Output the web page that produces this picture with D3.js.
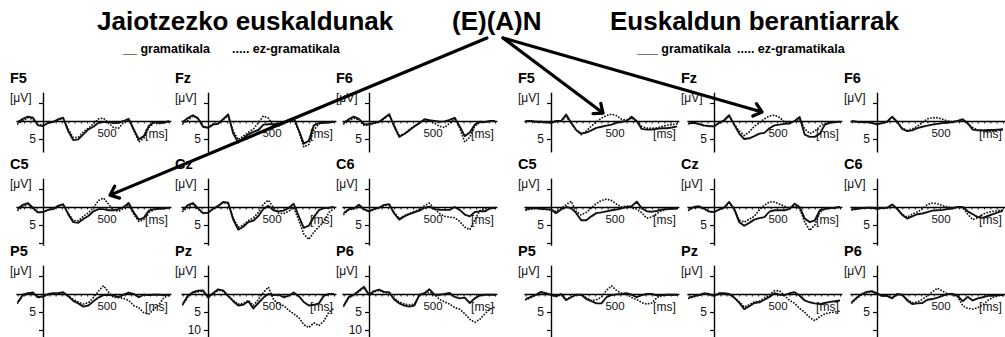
<!DOCTYPE html>
<html>
<head>
<meta charset="utf-8">
<script src="https://cdn.jsdelivr.net/npm/d3@7"></script>
<style>
  body { margin: 0; background: #fff; }
  svg { display: block; font-family: "Liberation Sans", Arial, sans-serif; }
</style>
</head>
<body>
<div id="chart"></div>
<script>
// sample times (ms) of every waveform
const times = [-200,-160,-120,-80,-40,0,40,80,120,160,200,240,280,320,360,400,440,480,520,560,600,640,680,720,760,800,840,880,920,960,1000];

const electrodes = [["F5", "Fz", "F6"], ["C5", "Cz", "C6"], ["P5", "Pz", "P6"]];
const groupTitles = ["Jaiotzezko euskaldunak", "Euskaldun berantiarrak"];
const centerTitle = "(E)(A)N";
const legendLabels = [["__ gramatikala", "..... ez-gramatikala"], ["___ gramatikala", "..... ez-gramatikala"]];
const yTicks = [-5, 5, 10];
const xTickLabel = 500;

// native speakers (left block), µV, positive plotted downwards: G = gramatikala, U = ez-gramatikala
const natF5G = [0.3,-0.6,-1.2,-0.9,1.2,1.4,0.5,0.3,-0.5,-0.9,2.8,5.3,5.1,3.7,2.3,1.6,0.5,0.3,0.3,0.6,0.5,0,-0.6,2.3,5.1,4.2,1.4,0.3,0.5,0.5,0];
const natF5U = [0.8,0,-0.9,-0.5,1.0,1.2,0.6,0.2,-0.3,-0.7,2.2,4.6,4.5,3.0,2.0,0.8,-0.6,-0.8,0.6,1.8,2.0,0.4,-0.5,2.6,5.8,4.8,1.8,0.6,0.8,0.3,0.2];
const natFzG = [0.3,-0.8,-1.6,-0.8,1.6,1.9,1.0,0.8,-0.5,-1.8,3.5,6.0,4.8,3.7,3.0,2.5,1.0,0.9,0.9,0.7,0.5,-0.3,-0.9,2.5,6.3,5.5,1.2,0.6,0.5,0.4,0.2];
const natFzU = [0.8,-0.2,-1.4,-0.6,1.4,1.8,0.8,0.6,-0.4,-1.5,2.8,5.2,4.2,3.2,2.2,0.5,-1.4,-0.8,1.4,1.4,0.8,0,-0.4,2.8,7.2,6.5,2.5,0.8,0.6,0.3,0.1];
const natF6G = [0.5,-0.5,-1.2,-0.6,0.9,0.9,0.5,0.2,-0.8,-1.9,1.5,4.4,3.6,2.6,1.5,0.6,-0.5,-0.2,0,0.2,0.1,-0.3,-0.9,1.5,4.2,3.2,1.0,0.2,0.3,0,0];
const natF6U = [0.8,0,-0.8,-0.3,1.2,1.2,0.6,0.4,-0.6,-1.7,1.2,4.0,3.6,2.4,1.4,0.5,-0.3,0,0.6,1.5,1.8,0.6,-0.6,2.0,5.8,4.5,1.4,0.4,0.2,0.1,0];
const natC5G = [0.5,-0.6,-1.1,0.2,1.5,1.4,0.8,0.6,-0.3,-0.8,2.0,4.2,4.4,3.3,2.5,1.2,0.6,0.6,0.9,0.9,0.6,0,-1.1,1.5,3.5,3.0,1.0,0.6,0.5,0.4,0.2];
const natC5U = [0.9,0,-0.8,0.4,1.6,1.4,0.8,0.4,-0.2,-0.6,1.6,3.8,3.8,2.6,1.6,0.2,-1.8,-2.5,-0.8,0.9,1.2,0.4,-0.6,2.0,4.0,3.5,1.5,0.8,0.5,0.4,0.2];
const natCzG = [0.8,-0.5,-1.1,0.3,1.7,1.6,0.5,-0.3,-1.4,-1.2,3.5,6.3,5.5,4.2,3.8,2.5,0.5,-0.3,0.9,1.2,1.0,0.3,-0.9,2.5,5.8,5.2,2.8,0.9,0.3,0.2,0];
const natCzU = [1.2,0.2,-0.8,0.5,1.8,1.6,0.6,-0.2,-1.2,-1.0,3.0,5.6,5.0,3.8,3.0,1.5,-0.8,-1.9,0.2,1.7,1.8,1.2,0.2,3.5,7.5,9.0,7.0,5.5,4.0,1.5,0.5];
const natC6G = [1.7,0.6,0.4,-0.6,0.6,1.2,0.6,0.2,-0.6,-0.8,1.8,3.5,2.6,2.0,1.5,1.0,0.2,-0.1,0.6,0.8,0.8,0.8,0,0.8,2.1,2.6,1.4,1.2,1.2,0.4,0.2];
const natC6U = [2.0,0.8,0.5,-0.4,0.8,1.2,0.6,0.3,-0.5,-0.6,1.5,3.2,2.4,1.8,1.2,0.6,-0.4,-1.1,0.5,1.8,2.6,2.8,3.0,4.0,5.6,6.3,3.5,1.0,0.5,0.3,0.2];
const natP5G = [2.3,0.2,-0.2,-0.4,0.9,0.6,0,-0.2,-0.2,-0.5,0.6,1.9,2.6,3.5,3.2,2.0,1.0,0.3,0.2,0.4,0.9,0.2,-0.4,0,0.9,0.2,0.3,0.2,0.2,0.3,0.2];
const natP5U = [2.5,0.5,0,-0.2,1.0,0.8,0.2,0,0,-0.3,0.5,1.5,2.2,2.8,2.4,1.0,-0.8,-2.3,-0.5,0.9,1.0,1.2,1.8,3.2,3.8,5.2,5.6,4.2,3.0,1.0,0.4];
const natPzG = [2.8,0.5,-0.5,-0.9,-1.0,0.9,-0.2,-1.3,-1.0,0.5,2.0,3.2,3.0,2.0,4.0,2.5,1.0,0,0.3,0.2,0.9,0.5,-0.4,0.6,2.2,3.2,3.0,2.6,0.5,0,0];
const natPzU = [3.0,0.8,-0.2,-0.6,-0.8,1.0,0,-1.0,-0.8,0.6,1.8,2.8,2.6,1.8,3.2,1.5,-0.5,-1.9,1.5,2.8,3.2,4.5,5.5,6.5,8.5,9.3,8.0,8.8,7.5,5.0,4.0];
const natP6G = [3.2,0.8,0.2,-0.9,-2.0,0.2,-0.8,-1.2,-0.6,-0.5,1.5,2.6,3.2,3.5,3.2,0.2,-0.2,-1.3,0.2,0.2,0,-0.3,0.8,1.2,1.0,2.5,1.2,0.4,0.2,0.2,0.2];
const natP6U = [3.4,1.0,0.4,-0.7,-1.8,0.4,-0.6,-1.0,-0.4,-0.3,1.2,2.2,2.8,3.0,2.8,0.5,0,-0.5,0.2,1.5,2.2,2.8,3.8,4.2,5.5,7.0,7.9,7.0,5.5,4.2,3.6];

// late learners (right block)
const latF5G = [0,0,0.2,0.2,0.3,0.5,0,0,-1.8,0.5,2.5,3.5,3.2,2.6,1.9,1.6,1.3,1.0,0.5,0.2,0,-1.2,0,2.2,2.4,2.4,2.2,2.0,2.0,1.8,1.5];
const latF5U = [0.2,0,0.3,0.4,0.5,0.5,0.2,0,-1.2,0.5,2.6,3.8,2.8,1.4,0.3,-0.8,-1.5,-1.9,-1.5,-0.5,-0.2,-0.8,0,1.5,2.0,2.0,1.9,1.5,1.2,1.0,0.8];
const latFzG = [0.6,0.5,0.8,1.2,1.4,1.5,0.5,-0.2,-1.6,1.0,3.5,5.0,4.8,4.2,3.5,3.3,2.0,1.2,1.0,0.8,0.7,0,-1.1,3.8,4.4,4.4,3.5,1.0,0.5,0.3,0.2];
const latFzU = [0.8,0.6,0.9,1.3,1.5,1.5,0.6,0,-1.4,0.8,2.8,4.0,3.0,1.5,0.5,-0.6,-1.4,-1.6,-1.0,0.3,0.5,0,-0.5,2.2,3.5,2.8,1.5,0.6,0.4,0.3,0.2];
const latF6G = [0,0.2,0.3,0.3,0.5,0.9,0.6,0.2,-1.2,0.2,2.2,2.8,2.6,2.0,1.6,1.3,1.0,0.8,0.6,0.5,0.3,0,-0.5,0.6,2.4,2.6,2.6,2.5,2.5,2.4,2.3];
const latF6U = [0.2,0.3,0.4,0.4,0.6,0.9,0.6,0.3,-1.0,0.2,2.0,2.6,2.2,1.4,0.5,-0.6,-0.9,-0.9,-0.5,0,0.2,0,-0.3,0.8,1.8,2.5,2.8,3.0,2.8,2.6,2.4];
const latC5G = [0.7,0.4,0.3,0.5,0.6,0.7,1.7,0.7,0,0.3,1.7,3.7,3.7,2.6,1.7,1.5,1.2,0.9,0.7,0.4,0,-0.2,-1.5,0.3,1.2,1.3,1.1,0.7,0.6,0.5,0.4];
const latC5U = [0.9,0.5,0.4,0.6,0.7,0.8,1.2,0.4,-0.6,-1.6,1.3,2.2,1.5,0.3,-1.0,-1.8,-2.2,-1.8,-0.8,0,-0.3,0.2,0.6,1.6,3.1,2.8,1.8,1.0,0.7,0.5,0.4];
const latCzG = [0.7,0,-0.2,0.4,1.2,1.4,0.7,0.2,-1.4,0.5,4.2,5.2,4.4,3.5,3.1,2.8,1.3,0.9,0.9,0.9,0.5,-0.9,0,3.2,4.2,3.7,0.9,0.5,0.3,0.2,0];
const latCzU = [0.9,0.2,0,0.5,1.3,1.4,0.7,0.3,-1.2,0.6,3.6,4.2,3.4,2.6,0.8,-0.5,-1.4,-1.4,-0.8,-0.2,0.3,-0.4,0.5,4.2,6.5,5.0,1.5,0.6,0.4,0.2,0];
const latC6G = [0.7,0.5,0.3,0.2,0.2,0.5,0.3,0.2,-0.7,0.5,2.2,3.2,2.6,2.0,1.8,1.4,1.0,0.9,0.8,0.6,0.4,0,0,1.2,2.0,2.8,3.0,2.5,2.0,1.5,1.0];
const latC6U = [0.8,0.6,0.4,0.3,0.3,0.5,0.3,0.3,-0.6,0.3,2.0,2.8,2.0,1.4,0.5,-0.7,-1.1,-0.9,-0.4,0,0.2,0,0.2,2.0,3.5,3.0,2.0,1.5,1.2,1.0,0.8];
const latP5G = [1.4,0.8,0.2,-0.6,-0.2,0.2,0.6,0,1.7,0.9,0.2,0.2,1.4,2.0,2.6,2.6,0.9,0.3,0.1,0,-0.2,0.2,0.9,0.3,0,0,0.4,0.3,0.2,0.2,0.2];
const latP5U = [1.6,1.0,0.4,-0.4,0,0.3,0.8,0.2,1.5,0.8,0.2,0.3,1.0,1.8,1.6,0.9,-1.0,-2.3,-1.0,-0.2,0,1.0,1.5,2.4,2.8,2.5,1.0,0.5,0.3,0.3,0.2];
const latPzG = [1.0,0.6,0.3,-0.2,0,0.5,-0.2,-0.2,0,1.0,2.4,4.2,3.4,2.5,2.3,1.6,0.8,-0.2,0.2,0.3,-0.2,-0.5,0.5,1.8,2.3,2.6,2.8,2.5,2.2,2.0,1.8];
const latPzU = [1.2,0.8,0.4,-0.1,0.2,0.6,0,0,0.2,1.0,2.2,3.6,3.0,2.2,2.0,1.2,0.2,-0.9,-0.9,0.5,1.8,2.6,4.0,5.1,6.5,7.4,6.3,5.5,5.2,5.0,4.8];
const latP6G = [2.3,1.0,0,-0.6,-0.8,-0.2,0.5,0.5,1.2,0,0.2,1.8,2.8,2.6,2.5,1.6,1.4,1.0,0.5,0,0,0.5,2.0,0.8,1.8,1.2,0.9,0.5,0.5,0.3,0.3];
const latP6U = [2.5,1.2,0.2,-0.4,-0.6,0,0.6,0.6,1.0,0.2,0.3,1.5,2.4,2.2,1.5,0.5,-0.6,-1.6,-0.8,0,0.2,0.8,3.2,4.0,4.2,3.8,3.0,1.8,1.0,0.5,0.4];

// arrow targets: which panel, time (ms) and amplitude (µV) the arrow tip points at
const arrowTargets = [
  { group: 0, el: "C5", t: 532, uv: -3.3, from: 0.39 },
  { group: 1, el: "F5", t: 413, uv: -2.2, from: 0.57 },
  { group: 1, el: "Fz", t: 381, uv: -2.5, from: 0.57 }
];

const groupData = [
  { F5: [natF5G, natF5U], Fz: [natFzG, natFzU], F6: [natF6G, natF6U],
    C5: [natC5G, natC5U], Cz: [natCzG, natCzU], C6: [natC6G, natC6U],
    P5: [natP5G, natP5U], Pz: [natPzG, natPzU], P6: [natP6G, natP6U] },
  { F5: [latF5G, latF5U], Fz: [latFzG, latFzU], F6: [latF6G, latF6U],
    C5: [latC5G, latC5U], Cz: [latCzG, latCzU], C6: [latC6G, latC6U],
    P5: [latP5G, latP5U], Pz: [latPzG, latPzU], P6: [latP6G, latP6U] }
];
const label10 = [["Pz", "P6"], []];

// check lengths
groupData.forEach((gd, gi) => Object.entries(gd).forEach(([k, arr]) => arr.forEach((a, si) => {
  if (a.length !== times.length) throw new Error(`group ${gi} ${k} series ${si}: ${a.length}`);
})));

// layout
const W = 1005, H = 337;
const colAxisX = [[43, 208, 369], [551, 714, 877]];
const rowZeroY = [121, 207, 294];
const rowBottomUV = [8.6, 10.6, 12.5];
const pxPerUV = 3.6;
const pxPerMs = 0.126;

const svg = d3.select('#chart').append('svg')
  .attr('width', W)
  .attr('height', H)
  .attr('viewBox', `0 0 ${W} ${H}`);

// titles
const titleX = [97, 610];
groupTitles.forEach((t, i) => {
  svg.append('text').attr('x', titleX[i]).attr('y', 30)
    .attr('font-size', 26).attr('font-weight', 'bold').text(t);
});
const midTitle = svg.append('text').attr('x', 452).attr('y', 30)
  .attr('font-size', 26).attr('font-weight', 'bold').text(centerTitle);

// legends
const legendX = [[123, 232], [637, 737]];
legendLabels.forEach((pair, gi) => pair.forEach((t, j) => {
  svg.append('text').attr('x', legendX[gi][j]).attr('y', 53)
    .attr('font-size', 12.5).attr('font-weight', 'bold').style('white-space', 'pre').text(t);
}));

const panelScales = {};

groupData.forEach((gd, gi) => {
  electrodes.forEach((row, ri) => row.forEach((el, ci) => {
    const ax = colAxisX[gi][ci];
    const zy = rowZeroY[ri];
    const x = d3.scaleLinear().domain([0, 1000]).range([ax, ax + 1000 * pxPerMs]);
    const y = d3.scaleLinear().domain([-8, rowBottomUV[ri]])
      .range([zy - 8 * pxPerUV, zy + rowBottomUV[ri] * pxPerUV]);
    panelScales[gi + el] = { x, y };
    const g = svg.append('g');

    // time axis on the zero line
    const xa = x.copy().domain([-215, 1015]).range([x(-215), x(1015)]);
    const tv = d3.range(-200, 1001, 50).filter(d => d !== 0);
    g.append('g')
      .attr('transform', `translate(0,${zy})`)
      .call(d3.axisBottom(xa).tickValues(tv).tickSize(2.5).tickSizeOuter(0).tickFormat(''))
      .call(s => s.select('.domain').attr('stroke-width', 1.3))
      .call(s => s.selectAll('.tick line').attr('stroke-width', 0.9));

    // amplitude axis through t = 0
    const lab = label10[gi].includes(el);
    g.append('g')
      .attr('transform', `translate(${ax},0)`)
      .call(d3.axisLeft(y).tickValues(yTicks.filter(v => v <= rowBottomUV[ri]))
        .tickSize(4).tickSizeOuter(0).tickPadding(3)
        .tickFormat(d => d === 5 ? '5' : (d === 10 && lab ? '10' : '')))
      .call(s => s.select('.domain').attr('stroke-width', 1.4))
      .call(s => s.selectAll('.tick line').attr('stroke-width', 1.2))
      .call(s => s.selectAll('.tick text').attr('font-size', 12)
        .attr('font-family', '"Liberation Sans", Arial, sans-serif').attr('fill', '#111'));

    // labels
    g.append('text').attr('x', ax - 33).attr('y', zy - 38)
      .attr('font-size', 14.5).attr('font-weight', 'bold').text(el);
    g.append('text').attr('x', ax - 33).attr('y', zy - 19)
      .attr('font-size', 12).attr('fill', '#111').text('[μV]');
    g.append('text').attr('x', x(xTickLabel) + 1).attr('y', zy + 16)
      .attr('font-size', 11.5).attr('text-anchor', 'middle').attr('fill', '#111').text(xTickLabel);
    g.append('text').attr('x', x(810)).attr('y', zy + 17)
      .attr('font-size', 12).attr('fill', '#111').text('[ms]');

    // waveforms
    const line = d3.line().x((d, i) => x(times[i])).y(d => y(d));
    const [gram, ungram] = gd[el];
    g.append('path').datum(ungram).attr('d', line)
      .attr('fill', 'none').attr('stroke', '#111').attr('stroke-width', 1.8)
      .attr('stroke-dasharray', '0.1,2.9').attr('stroke-linecap', 'round');
    g.append('path').datum(gram).attr('d', line)
      .attr('fill', 'none').attr('stroke', '#111').attr('stroke-width', 1.9)
      .attr('stroke-linejoin', 'round');
  }));
});

// arrows from (E)(A)N
const bb = midTitle.node().getBBox();
arrowTargets.forEach(a => {
  const s = panelScales[a.group + a.el];
  const tx = s.x(a.t), ty = s.y(a.uv);
  const sx = bb.x + bb.width * a.from, sy = bb.y + bb.height + 2;
  const ang = Math.atan2(sy - ty, sx - tx);
  const len = 10, spread = 40 * Math.PI / 180;
  const p = d3.path();
  p.moveTo(sx, sy); p.lineTo(tx, ty);
  p.moveTo(tx + len * Math.cos(ang - spread), ty + len * Math.sin(ang - spread));
  p.lineTo(tx, ty);
  p.lineTo(tx + len * Math.cos(ang + spread), ty + len * Math.sin(ang + spread));
  svg.append('path').attr('d', p.toString())
    .attr('fill', 'none').attr('stroke', '#000').attr('stroke-width', 3.2)
    .attr('stroke-linecap', 'round').attr('stroke-linejoin', 'round');
});
</script>
</body>
</html>
